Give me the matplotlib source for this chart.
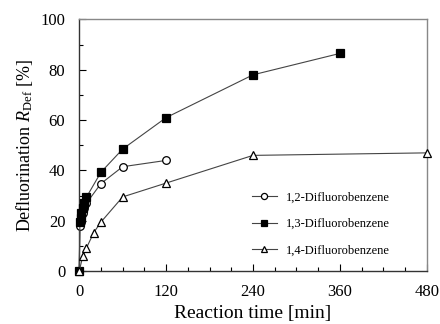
import matplotlib
matplotlib.use('Agg')
import matplotlib.pyplot as plt
from matplotlib.ticker import MultipleLocator

plt.rcParams['font.family'] = 'Liberation Serif'
plt.rcParams['mathtext.fontset'] = 'custom'
plt.rcParams['mathtext.it'] = 'Liberation Serif:italic'
plt.rcParams['mathtext.rm'] = 'Liberation Serif'

# data
t_12 = [0, 1, 2, 3, 5, 7, 10, 30, 60, 120]
r_12 = [0, 18, 19.5, 21, 23, 25, 27, 34.8, 41.5, 44]
t_13 = [0, 1, 2, 3, 5, 7, 10, 30, 60, 120, 240, 360]
r_13 = [0, 19.4, 21, 23, 25, 27, 29.4, 39.3, 48.5, 61, 78, 86.5]
t_14 = [0, 5, 10, 20, 30, 60, 120, 240, 480]
r_14 = [0, 6, 9.2, 15.3, 19.5, 29.5, 35, 46, 47]

fig, ax = plt.subplots(figsize=(4.4, 3.24), dpi=100)
fig.subplots_adjust(left=0.18, right=0.97, top=0.94, bottom=0.163)

ln = dict(color='#444444', lw=0.8, ms=5.5, mew=0.9, mec='black', clip_on=False, zorder=3)
ax.plot(t_12, r_12, 'o-', mfc='white', label='1,2-Difluorobenzene', **ln)
ax.plot(t_13, r_13, 's-', mfc='black', label='1,3-Difluorobenzene', **ln)
ax.plot(t_14, r_14, '^-', mfc='white', label='1,4-Difluorobenzene', **ln)

ax.set_xlim(0, 480)
ax.set_ylim(0, 100)
ax.xaxis.set_major_locator(MultipleLocator(120))
ax.xaxis.set_minor_locator(MultipleLocator(30))
ax.yaxis.set_major_locator(MultipleLocator(20))
ax.yaxis.set_minor_locator(MultipleLocator(10))
ax.tick_params(which='both', direction='in', labelsize=12, width=0.8)
ax.tick_params(which='major', length=5)
ax.tick_params(which='minor', length=3)
ax.tick_params(axis='x', which='major', pad=9)
ax.tick_params(axis='y', which='major', pad=10)
for side in ['left', 'bottom']:
    ax.spines[side].set_color('#333333')
for side in ['top', 'right']:
    ax.spines[side].set_color('#888888')
for s in ax.spines.values():
    s.set_linewidth(1)

ax.set_xlabel('Reaction time [min]', fontsize=14, labelpad=4)
ax.set_ylabel(r'Defluorination $R_{\mathrm{Def}}$ [%]', fontsize=13)
ax.legend(loc='lower right', frameon=False, fontsize=9, handlelength=2.0,
          handletextpad=0.72, markerscale=0.8, labelspacing=1.15,
          bbox_to_anchor=(0.925, 0.014))

fig.savefig('out.png', dpi=100)
